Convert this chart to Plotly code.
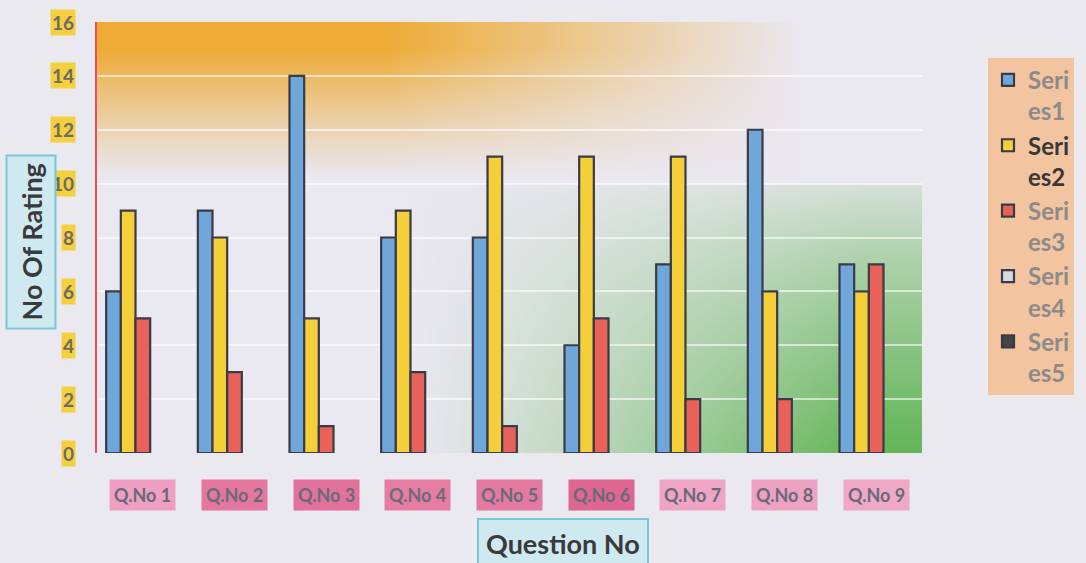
import base64, struct, zlib
import numpy as np
import plotly.graph_objects as go

categories = ["Q.No 1", "Q.No 2", "Q.No 3", "Q.No 4", "Q.No 5", "Q.No 6", "Q.No 7", "Q.No 8", "Q.No 9"]
series1 = [6, 9, 14, 8, 8, 4, 7, 12, 7]
series2 = [9, 8, 5, 9, 11, 11, 11, 6, 6]
series3 = [5, 3, 1, 3, 1, 5, 2, 2, 7]
series4 = [None] * 9
series5 = [None] * 9
series_names = ["Series1", "Series2", "Series3", "Series4", "Series5"]
y_ticks = [0, 2, 4, 6, 8, 10, 12, 14, 16]
label_pinks = ["#ef9fc1", "#e5779e", "#e3729b", "#e67ca2", "#e47aa0", "#df6690", "#f0a4c4", "#eea2c2", "#f0a8c7"]

BG = np.array([234, 232, 240], float)
ORANGE = np.array([238, 172, 55], float)
GREEN = np.array([100, 182, 88], float)


def gradient_png(W=400, H=200):
    u = np.linspace(0, 1, W)[None, :]
    v = np.linspace(1, 0, H)[:, None]
    a_o = np.clip((v - 0.64) / 0.30, 0, 1) ** 1.1 * np.clip((0.85 - u) / 0.5, 0, 1)
    vert_g = np.where(v < 0.625, 0.12 + 0.88 * (1 - v / 0.625) ** 0.8, 0.0)
    a_g = vert_g * np.clip((u - 0.38) / 0.55, 0, 1) ** 1.1
    img = BG[None, None, :] * np.ones((H, W, 1))
    img = img * (1 - a_o[..., None]) + ORANGE * a_o[..., None]
    img = img * (1 - a_g[..., None]) + GREEN * a_g[..., None]
    arr = np.clip(img, 0, 255).astype(np.uint8)
    raw = b"".join(b"\x00" + arr[r].tobytes() for r in range(H))

    def chunk(t, d):
        c = struct.pack(">I", len(d)) + t + d
        return c + struct.pack(">I", zlib.crc32(t + d) & 0xffffffff)

    png = b"\x89PNG\r\n\x1a\n" + chunk(b"IHDR", struct.pack(">IIBBBBB", W, H, 8, 2, 0, 0, 0)) \
        + chunk(b"IDAT", zlib.compress(raw, 9)) + chunk(b"IEND", b"")
    return "data:image/png;base64," + base64.b64encode(png).decode()


FONT = "Lato"
fills = ["#6fa7db", "#f5cf3a", "#e8625a", "#d9d9e2", "#454545"]
values = [series1, series2, series3, series4, series5]
names = []
for i, n in enumerate(series_names):
    a, b = n[:4], n[4:]
    if i == 1:
        names.append(f"<span style='color:#383838'><b>{a}<br>{b}</b></span>")
    else:
        names.append(f"<b>{a}<br>{b}</b>")

fig = go.Figure()
for vals, col, nm in zip(values, fills, names):
    fig.add_trace(go.Bar(x=categories, y=vals, name=nm,
                         marker=dict(color=col, line=dict(color="#3a3a48", width=2.2))))

annotations = []
for t in y_ticks:
    annotations.append(dict(x=0, y=t, xref="paper", yref="y", xanchor="right", yanchor="middle",
                            xshift=-21, text=f"<b>{t}</b>", showarrow=False,
                            font=dict(family=FONT, size=19, color="#6f6a62"),
                            bgcolor="#f4cf3e", borderpad=1))
for c, pk in zip(categories, label_pinks):
    annotations.append(dict(x=c, y=0, xref="x", yref="paper", xanchor="center", yanchor="middle",
                            yshift=-42, text=f"<b>{c}</b>", showarrow=False,
                            font=dict(family=FONT, size=18, color="#6a6a78"),
                            bgcolor=pk, borderpad=4))
annotations.append(dict(x=0, y=0.5, xref="paper", yref="paper", xshift=-66, yshift=-5,
                        xanchor="center", yanchor="middle", text="<b>No Of Rating</b>", textangle=-90,
                        showarrow=False, font=dict(family=FONT, size=27, color="#3a3a3a"),
                        bgcolor="#cfe9f1", bordercolor="#7cc5d6", borderwidth=2, borderpad=7))
annotations.append(dict(x=0.565, y=0, xref="paper", yref="paper", yshift=-90,
                        xanchor="center", yanchor="middle", text="<b>Question No</b>",
                        showarrow=False, font=dict(family=FONT, size=27, color="#3a3a3a"),
                        bgcolor="#cfe9f1", bordercolor="#7cc5d6", borderwidth=2, borderpad=7))

fig.update_layout(
    width=1086, height=563,
    margin=dict(l=97, r=162, t=22, b=110),
    paper_bgcolor="#ebe9f0", plot_bgcolor="rgba(0,0,0,0)",
    barmode="group", bargap=0.2, bargroupgap=0,
    font=dict(family=FONT),
    images=[dict(source=gradient_png(), xref="paper", yref="paper", x=0, y=1, sizex=1, sizey=1,
                 xanchor="left", yanchor="top", sizing="stretch", layer="below")],
    legend=dict(x=1.08, y=0.917, xanchor="left", yanchor="top", bgcolor="#f2c4a0",
                font=dict(family=FONT, size=24, color="#8c8a8a"), valign="top",
                tracegroupgap=4, itemwidth=30),
    annotations=annotations,
    showlegend=True,
)
fig.update_xaxes(showticklabels=False, showgrid=False, showline=False, ticks="")
fig.update_yaxes(range=[0, 16], tickvals=y_ticks, showticklabels=False, showgrid=True,
                 gridcolor="rgba(255,255,255,0.6)", gridwidth=1.5, showline=True,
                 linecolor="#e8505a", linewidth=1.5, zeroline=False, ticks="")

fig.write_html("out.html", config={"displayModeBar": False},
               post_script="document.body.style.margin='0';document.body.style.background='#ebe9f0';")
